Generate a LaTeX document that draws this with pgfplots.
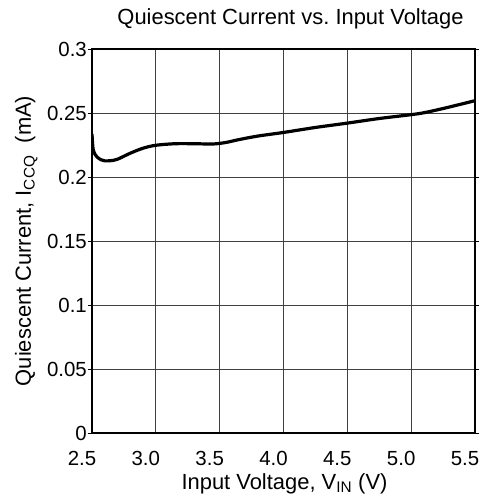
\documentclass[border=0pt]{standalone}
\usepackage{pgfplots}
\pgfplotsset{compat=1.18}
\usepackage{fontspec}
\setmainfont{Liberation Sans}
\begin{document}
\begin{tikzpicture}
\begin{axis}[
  name=ax,
  scale only axis,
  width=383bp, height=384bp,
  xmin=2.5, xmax=5.5, ymin=0, ymax=0.3,
  xtick={2.5,3,3.5,4,4.5,5,5.5},
  xticklabels={2.5,3.0,3.5,4.0,4.5,5.0,5.5},
  ytick={0,0.05,0.1,0.15,0.2,0.25,0.3},
  yticklabels={0,0.05,0.1,0.15,0.2,0.25,0.3},
  grid=major,
  major grid style={black!75, line width=0.8bp},
  axis line style={line width=1.4bp},
  xtick style={draw=none},
  ytick style={line width=0.8bp, black},
  tick align=outside,
  major tick length=4bp,
  xticklabel style={font=\fontsize{20.5}{24}\selectfont, anchor=base, yshift=-28bp, xshift=-10bp, inner sep=0pt},
  yticklabel style={font=\fontsize{20.5}{24}\selectfont, anchor=east, inner sep=0pt, xshift=-1bp},
  /pgf/number format/assume math mode=true,
]
\addplot[black, line width=3.2bp, smooth] coordinates {
(2.50,0.2337) (2.51,0.2210) (2.537,0.2159) (2.57,0.2135) (2.60,0.2126)
(2.65,0.2128) (2.70,0.2139) (2.80,0.2186) (2.90,0.2225) (3.00,0.2248)
(3.15,0.2260) (3.30,0.2260) (3.45,0.2258) (3.55,0.2270) (3.65,0.2292)
(3.80,0.2320) (4.00,0.2348) (4.25,0.2387) (4.50,0.2421) (4.75,0.2457)
(5.00,0.2487) (5.10,0.2502) (5.25,0.2535) (5.50,0.2596)
};
\end{axis}
\node[anchor=base, font=\fontsize{22}{26}\selectfont] at ([xshift=7bp, yshift=24bp]ax.north) {Quiescent Current vs.\ Input Voltage};
\node[anchor=base, font=\fontsize{22}{26}\selectfont] at ([xshift=1bp, yshift=-56bp]ax.south) {Input Voltage, V\textsubscript{IN} (V)};
\node[anchor=base, rotate=90, font=\fontsize{22}{26}\selectfont] at ([xshift=-61bp]ax.west) {Quiescent Current, I\textsubscript{CCQ}\ \ (mA)};
\pgfresetboundingbox
\path ([xshift=-92bp, yshift=-69bp]ax.south west) rectangle ([xshift=11bp, yshift=49bp]ax.north east);
\end{tikzpicture}
\end{document}
